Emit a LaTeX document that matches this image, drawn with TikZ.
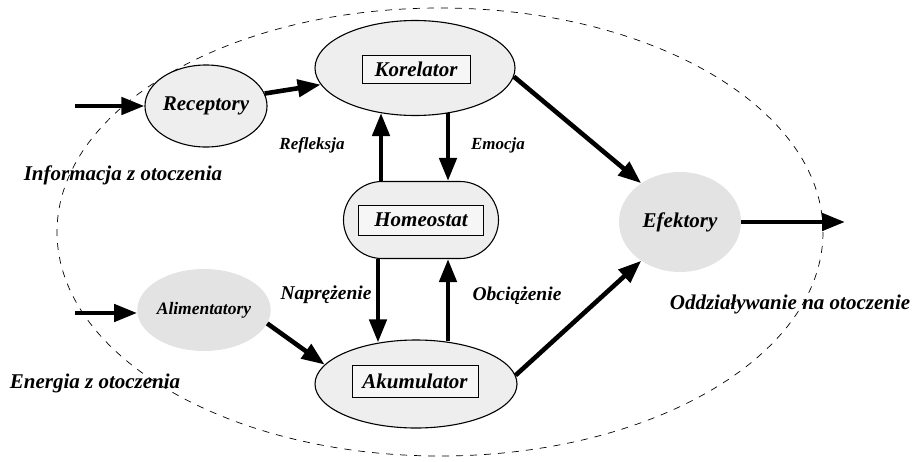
\documentclass[tikz,border=0pt]{standalone}
\usepackage{fontspec}
\setmainfont{Liberation Serif}
\usetikzlibrary{arrows.meta,shapes.geometric,shapes.misc,calc}
\begin{document}
\begin{tikzpicture}[x=1pt,y=-1pt,
  lbl/.style={font=\bfseries\itshape\fontsize{21}{24}\selectfont},
  mid/.style={font=\bfseries\itshape\fontsize{19.5}{22}\selectfont},
  small/.style={font=\bfseries\itshape\fontsize{17}{20}\selectfont},
  blob/.style={ellipse,draw,line width=1.1pt,fill=gray!13,inner sep=0pt},
  haze/.style={ellipse,fill=gray!22,inner sep=0pt},
  tag/.style={draw,line width=0.8pt,fill=gray!7,inner sep=0pt},
  arr/.style={line width=4.6pt,-{Triangle[length=23pt,width=17pt]}},
]
\useasboundingbox (0,0) rectangle (916,461);
% system boundary
\draw[line width=0.7pt,dash pattern=on 7pt off 7pt] (440,232) ellipse [x radius=383, y radius=224];

% blocks
\node[blob,minimum width=105,minimum height=82,lbl] (rec) at (206,106) {Receptory};
\node[blob,minimum width=200,minimum height=95] (kor) at (415,68) {};
\node[tag,minimum width=108,minimum height=28,lbl] (korbox) at (416,69) {Korelator};
\node[rounded rectangle,draw,line width=1.1pt,fill=gray!13,minimum width=155,minimum height=77,inner sep=0pt] (hom) at (421,220) {};
\node[tag,minimum width=125,minimum height=30,lbl] (hombox) at (hom.center) {Homeostat};
\node[blob,minimum width=202,minimum height=88] (akum) at (416,384) {};
\node[tag,minimum width=126,minimum height=32,lbl] (akumbox) at (415,381) {Akumulator};
\node[haze,minimum width=106,minimum height=82,small,font=\bfseries\itshape\fontsize{17.5}{20}\selectfont] (ali) at (204,310) {Alimentatory};
\node[haze,minimum width=122,minimum height=100,lbl] (eff) at (680,222) {Efektory};

% free ends
\coordinate (inInfo) at (75,106);
\coordinate (inEnergy) at (75,313);
\coordinate (out) at (845,222);

% connectors
\draw[arr] (inInfo) -- (rec.west);
\draw[arr] (inEnergy) -- (ali.west |- inEnergy);
\draw[arr] (rec.12) -- (kor.190);
\draw[arr] (ali.-12) -- (akum.168);
\draw[arr] (kor.-5) -- (eff.135);
\draw[arr] (akum.5) -- (eff.225);
\draw[arr] (eff.east) -- (out);
\draw[arr] ($(hom.north)+(-40,0)$) -- ($(kor.south)+(-34,-3)$);
\draw[arr] ($(kor.south)+(33,-3)$) -- ($(hom.north)+(27,0)$);
\draw[arr] ($(hom.south)+(-43,0)$) -- ($(akum.north)+(-38,3)$);
\draw[arr] ($(akum.north)+(32,2)$) -- ($(hom.south)+(27,0)$);

% labels
\node[small] (refl) at (312,145) {Refleksja};
\node[small] (emo) at (498,145) {Emocja};
\node[mid] (napr) at (326,295) {Naprężenie};
\node[mid] (obc) at (517,296) {Obciążenie};
\node[lbl] (info) at (123,175) {Informacja z otoczenia};
\node[lbl] (energ) at (95,383) {Energia z otoczenia};
\node[lbl] (odd) at (790,304) {Oddziaływanie na otoczenie};
\end{tikzpicture}
\end{document}
